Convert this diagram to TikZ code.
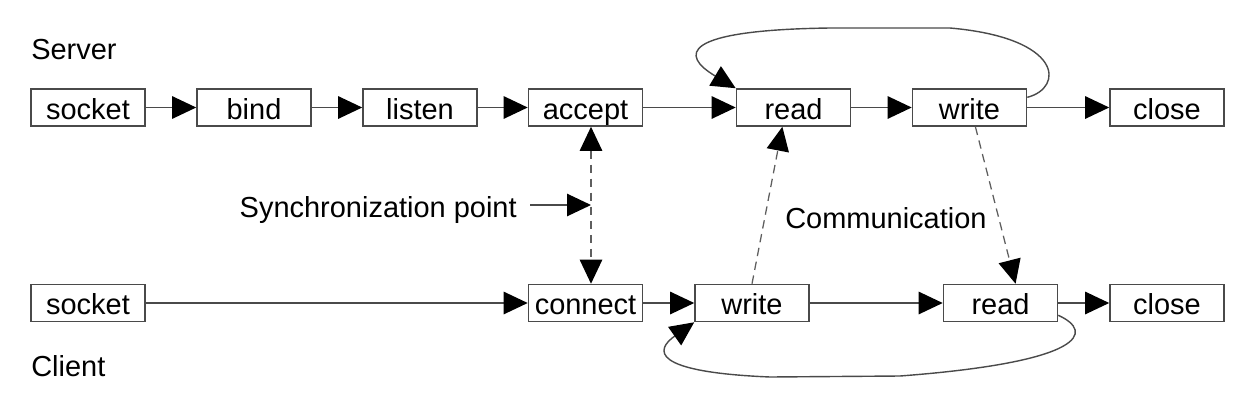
\documentclass[tikz,border=0pt]{standalone}
\usepackage{fontspec}
\setmainfont{Liberation Sans}
\usepackage{tikz}
\usetikzlibrary{arrows.meta}
\definecolor{linegray}{HTML}{4A4A4A}
\definecolor{dashgray}{HTML}{5E5E5E}

\begin{document}
\begin{tikzpicture}[x=0.025cm, y=-0.025cm,
    font=\fontsize{20.6}{24}\selectfont,
    >={Triangle[length=0.6cm, width=0.56cm, color=black]},
    box/.style={draw=linegray, line width=1.1pt, minimum width=2.85cm, minimum height=0.925cm,
      inner sep=0pt, text height=0.66cm, text depth=0.085cm},
    lbl/.style={anchor=base west, inner sep=0pt},
    line/.style={draw=linegray, line width=1pt},
    dline/.style={draw=dashgray, line width=0.9pt, dash pattern=on 6pt off 4pt}
]
  \useasboundingbox (0,0) rectangle (1256,409);

  % Server
  \node[lbl] (server) at (31,59) {Server};
  \node[box] (ssocket) at (88,107.5) {socket};
  \node[box] (sbind) at (254,107.5) {bind};
  \node[box] (slisten) at (420,107.5) {listen};
  \node[box] (saccept) at (585.5,107.5) {accept};
  \node[box] (sread) at (793.5,107.5) {read};
  \node[box] (swrite) at (969.5,107.5) {write};
  \node[box] (sclose) at (1167,107.5) {close};

  % Client
  \node[box] (csocket) at (88,303) {socket};
  \node[box] (cconnect) at (585.5,303) {connect};
  \node[box] (cwrite) at (752,303) {write};
  \node[box] (cread) at (1000.5,303) {read};
  \node[box] (cclose) at (1167,303) {close};
  \node[lbl] (client) at (31,376) {Client};

  % Beschriftungen
  \node[anchor=base east, inner xsep=0.325cm, inner ysep=0pt] (synclabel) at (530,217) {Synchronization point};
  \node[lbl] (commlabel) at (785,228) {Communication};
  \coordinate (sync) at (591,205);

  % Ablauf Server
  \draw[line, ->] (ssocket) -- (sbind);
  \draw[line, ->] (sbind) -- (slisten);
  \draw[line, ->] (slisten) -- (saccept);
  \draw[line, ->] (saccept) -- (sread);
  \draw[line, ->] (sread) -- (swrite);
  \draw[line, ->] (swrite) -- (sclose);

  % Ablauf Client
  \draw[line, ->] (csocket) -- (cconnect);
  \draw[line, ->] (cconnect) -- (cwrite);
  \draw[line, ->] (cwrite) -- (cread);
  \draw[line, ->] (cread) -- (cclose);

  % Schleifen
  \draw[line, ->] (swrite.10) .. controls (1064,88) and (1064,38) .. (950,28)
    -- (830,28) .. controls (680,30) and (680,55) .. (sread.north west);
  \draw[line, ->] (cread.-12) .. controls (1095,332) and (1085,362) .. (900,376)
    -- (770,377) .. controls (650,372) and (655,350) .. (cwrite.south west);

  % Synchronisation und Kommunikation
  \draw[dline, <->] (saccept.south -| sync) -- (cconnect.north -| sync);
  \draw[line, ->] (synclabel.east |- sync) -- (sync);
  \draw[dline, ->] (cwrite.north) -- (sread.-120);
  \draw[dline, ->] (swrite.-73) -- (cread.52);

\end{tikzpicture}
\end{document}
